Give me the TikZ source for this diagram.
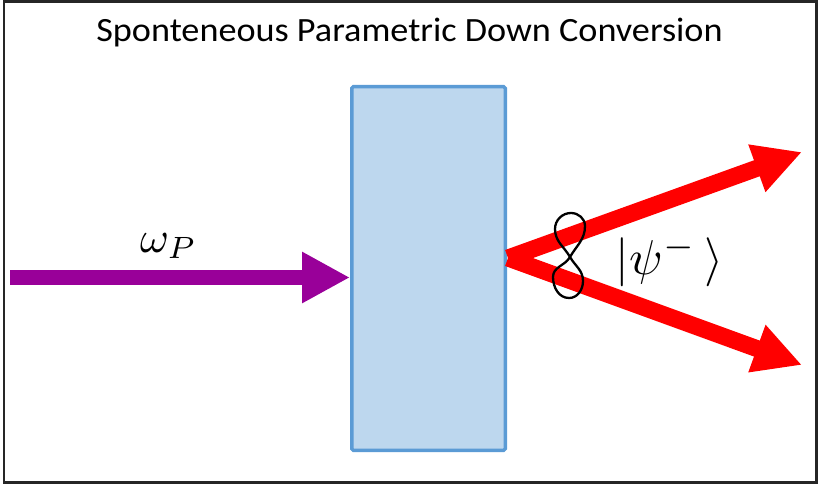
\documentclass[tikz,border=0pt]{standalone}
\usepackage{fontspec}
\setmainfont{Carlito}
\usetikzlibrary{arrows.meta}
\definecolor{pumpc}{RGB}{153,0,153}
\definecolor{crysfill}{RGB}{189,215,238}
\definecolor{crysline}{RGB}{91,155,213}
\definecolor{beamred}{RGB}{255,0,0}
\tikzset{
  frame/.style={draw=black!85, line width=2.6pt},
  crystal/.style={rectangle, draw=crysline, fill=crysfill, line width=3.5pt,
    rounded corners=1.5pt, minimum width=153.5pt, minimum height=363.5pt, inner sep=0pt},
  pump/.style={draw=pumpc, line width=15pt,
    -{Triangle[length=48pt,width=48pt]}},
  beam/.style={draw=beamred, line width=17pt, line cap=butt,
    -{Triangle[length=48pt,width=47pt]}},
  loopline/.style={draw=black, line width=2.3pt},
  titletext/.style={font=\fontsize{34}{37}\selectfont, inner sep=0pt},
  mathlabel/.style={inner sep=0pt}
}
\begin{document}
\begin{tikzpicture}[x=1pt,y=-1pt]
\useasboundingbox (0,0) rectangle (818,484);
\draw[frame] (4,1.3) rectangle (816.5,482.7);
\node[titletext, anchor=base] (title) at (409.5,42) {\scalebox{1.065}[1]{Sponteneous Parametric Down Conversion}};
\node[crystal] (crystal) at (428.5,268.5) {};
\coordinate (src) at (10,277.5);
\coordinate (v) at (508,258);
\coordinate (up) at (802,152);
\coordinate (down) at (802,365);
\draw[pump] (src) -- (crystal.west |- src);
\draw[beam] (v) -- (up);
\draw[beam] (v) -- (down);
\draw[loopline] (570,257) to[out=120,in=270] (555,229) to[out=90,in=180] (571,213)
  to[out=0,in=90] (585,226) to[out=270,in=60] (570,257)
  to[out=240,in=90] (553,277) to[out=270,in=180] (569,298)
  to[out=0,in=270] (583,281) to[out=90,in=300] (570,257);
\node[mathlabel, anchor=base west] (omega) at (140,252) {\scalebox{4.4}{$\omega_P$}};
\node[mathlabel] (psi) at (669.5,261) {\scalebox{4.9}{$|\psi^{-}\,\rangle$}};
\end{tikzpicture}
\end{document}
